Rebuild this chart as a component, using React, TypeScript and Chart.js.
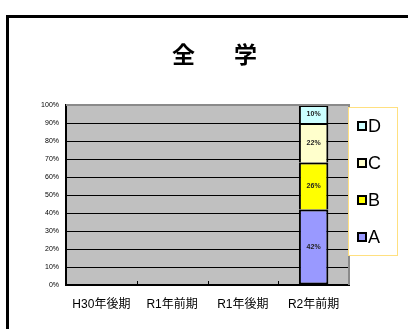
import React, { useEffect, useRef } from "react";
import { Chart, registerables } from "chart.js";

Chart.register(...registerables);

const titleText = "全　学";
const categories = ["H30年後期", "R1年前期", "R1年後期", "R2年前期"];
const seriesNames = ["A", "B", "C", "D"];
const seriesA = [null, null, null, 42];
const seriesB = [null, null, null, 26];
const seriesC = [null, null, null, 22];
const seriesD = [null, null, null, 10];
const seriesColors = ["#9999ff", "#ffff00", "#ffffcc", "#ccffff"];
const yTicks = [0, 10, 20, 30, 40, 50, 60, 70, 80, 90, 100];

const JP = "'Liberation Sans', 'Noto Sans CJK JP', sans-serif";

const plotDecor = {
  id: "plotDecor",
  beforeDraw(chart: any) {
    const { ctx, chartArea: a } = chart;
    ctx.save();
    ctx.fillStyle = "#c0c0c0";
    ctx.fillRect(a.left, a.top, a.right - a.left, a.bottom - a.top);
    // title
    ctx.fillStyle = "#000";
    ctx.font = "bold 23px 'Noto Sans CJK JP', sans-serif";
    ctx.textAlign = "center";
    ctx.textBaseline = "middle";
    try { (ctx as any).letterSpacing = "8px"; } catch (e) {}
    ctx.fillText(titleText, chart.width / 2 + 4.5, 37);
    try { (ctx as any).letterSpacing = "0px"; } catch (e) {}
    ctx.restore();
  },
  afterDatasetsDraw(chart: any) {
    const { ctx, chartArea: a } = chart;
    const xs = chart.scales.x;
    ctx.save();
    ctx.strokeStyle = "#8a8a8a";
    ctx.lineWidth = 2;
    ctx.beginPath();
    ctx.moveTo(a.left, a.top);
    ctx.lineTo(a.right, a.top);
    ctx.lineTo(a.right, a.bottom);
    ctx.stroke();
    ctx.strokeStyle = "#000";
    ctx.lineWidth = 1;
    for (let i = 0; i < categories.length - 1; i++) {
      const b = (xs.getPixelForValue(i) + xs.getPixelForValue(i + 1)) / 2;
      ctx.beginPath();
      ctx.moveTo(Math.round(b) + 0.5, a.bottom);
      ctx.lineTo(Math.round(b) + 0.5, a.bottom - 4);
      ctx.stroke();
    }
    ctx.fillStyle = "#222";
    ctx.font = "bold 7px 'Liberation Sans', sans-serif";
    ctx.textAlign = "center";
    ctx.textBaseline = "middle";
    chart.data.datasets.forEach((ds: any, di: number) => {
      const meta = chart.getDatasetMeta(di);
      meta.data.forEach((el: any, i: number) => {
        const v = ds.data[i];
        if (v == null) return;
        const p = el.getProps(["x", "y", "base"], true);
        ctx.fillText(v + "%", p.x, (p.y + p.base) / 2);
      });
    });
    ctx.restore();
  },
  afterDraw(chart: any) {
    const { ctx, chartArea: a } = chart;
    const boxL = a.right - 1;
    const boxT = a.top + 2;
    const boxW = 50;
    const boxH = 149;
    ctx.save();
    ctx.fillStyle = "#ffffff";
    ctx.fillRect(boxL, boxT, boxW, boxH);
    ctx.strokeStyle = "#ffe080";
    ctx.lineWidth = 1;
    ctx.strokeRect(boxL + 0.5, boxT + 0.5, boxW - 1, boxH - 1);
    const items = chart.data.datasets.slice().reverse();
    ctx.font = "18px 'Liberation Sans', sans-serif";
    ctx.textAlign = "left";
    ctx.textBaseline = "middle";
    items.forEach((ds: any, k: number) => {
      const cy = boxT + 19 + k * 37;
      const sx = boxL + 9;
      ctx.fillStyle = ds.backgroundColor;
      ctx.fillRect(sx + 1, cy - 4, 8, 8);
      ctx.strokeStyle = "#000";
      ctx.lineWidth = 2;
      ctx.strokeRect(sx + 1, cy - 4, 8, 8);
      ctx.fillStyle = "#000";
      ctx.fillText(ds.label, sx + 11, cy + 1);
    });
    ctx.restore();
  },
};

export default function App() {
  const ref = useRef<HTMLCanvasElement>(null);
  useEffect(() => {
    if (!ref.current) return;
    const values = [seriesA, seriesB, seriesC, seriesD];
    const chart = new Chart(ref.current, {
      type: "bar",
      data: {
        labels: categories,
        datasets: seriesNames.map((n, i) => ({
          label: n,
          data: values[i],
          backgroundColor: seriesColors[i],
          borderColor: "#000",
          borderWidth: i === 0 ? 2 : { top: 2, left: 2, right: 2, bottom: 0 },
          borderSkipped: false,
          barPercentage: 0.416,
          categoryPercentage: 1,
        })),
      },
      options: {
        animation: false,
        responsive: true,
        maintainAspectRatio: false,
        layout: { padding: { left: 0, right: 59, top: 88, bottom: 0 } },
        plugins: {
          legend: { display: false },
          tooltip: { enabled: false },
          title: { display: false },
        },
        scales: {
          x: {
            stacked: true,
            grid: { display: false, drawTicks: false },
            border: { display: true, color: "#000", width: 2 },
            ticks: { color: "#000", padding: 12, font: { size: 12, family: JP } },
            afterFit: (s: any) => { s.height = 44; },
          },
          y: {
            stacked: true,
            min: 0,
            max: 100,
            afterBuildTicks: (s: any) => { s.ticks = yTicks.map((v) => ({ value: v })); },
            grid: { color: "#000", lineWidth: 1, drawTicks: false },
            border: { display: true, color: "#000", width: 2 },
            ticks: {
              color: "#000",
              padding: 7,
              font: { size: 7, family: "'Liberation Sans', sans-serif" },
              callback: (v: any) => v + "%",
            },
            afterFit: (s: any) => { s.width = 46; },
          },
        },
      },
      plugins: [plotDecor],
    });
    return () => chart.destroy();
  }, []);
  return (
    <div style={{ position: "absolute", left: 0, top: 0, width: 408, height: 329, background: "#fff", overflow: "hidden" }}>
      <div style={{ position: "absolute", left: 6, top: 15, width: 430, height: 340, borderLeft: "3px solid #000", borderTop: "3px solid #000", boxSizing: "border-box" }} />
      <div style={{ position: "absolute", left: 20, top: 17, width: 388, height: 312 }}>
        <canvas ref={ref} />
      </div>
    </div>
  );
}
